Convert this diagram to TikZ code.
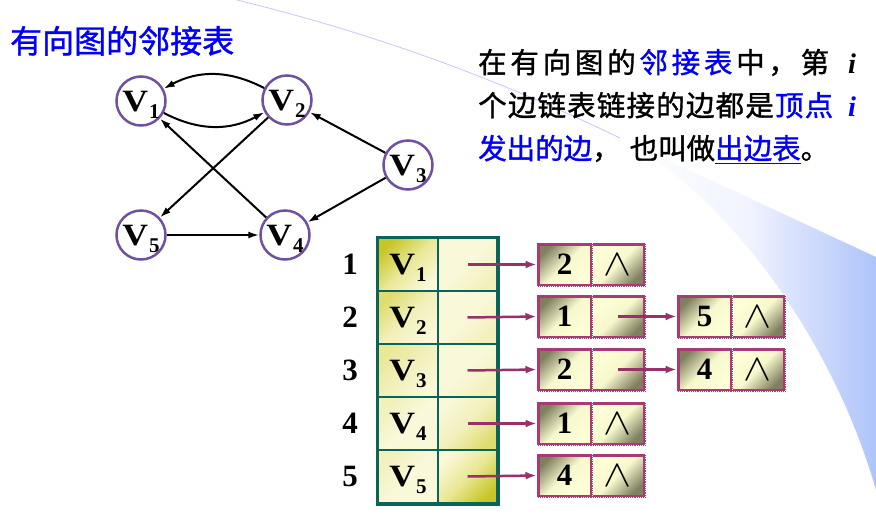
\documentclass[tikz,border=0pt]{standalone}
\usepackage{fontspec}
\usepackage{graphicx}
\setmainfont{Liberation Serif}
\newfontfamily\cjk[FakeBold=1.2]{Noto Sans CJK SC}
\usetikzlibrary{arrows.meta}
\definecolor{tblue}{RGB}{0,0,250}
\definecolor{vpurple}{RGB}{112,80,160}
\definecolor{tteal}{RGB}{10,100,90}
\definecolor{ptrc}{RGB}{150,50,105}
\definecolor{boxc}{RGB}{165,60,115}
\definecolor{yA}{RGB}{200,197,40}
\definecolor{yB}{RGB}{222,220,110}
\definecolor{yC}{RGB}{234,232,150}
\definecolor{yD}{RGB}{242,240,188}
\definecolor{yP}{RGB}{249,248,216}
\definecolor{gD}{RGB}{128,128,96}
\definecolor{gM}{RGB}{248,248,206}
\definecolor{gP}{RGB}{255,255,216}
\definecolor{swA}{RGB}{241,244,255}
\definecolor{swB}{RGB}{214,224,252}
\definecolor{swC}{RGB}{174,196,250}
\definecolor{swL}{RGB}{196,200,250}
\pgfdeclarehorizontalshading{swoosh}{100bp}{color(0bp)=(white); color(25bp)=(white); color(50bp)=(swA); color(60bp)=(swB); color(75bp)=(swC); color(100bp)=(swC)}
\newcommand\vlab[1]{{\fontsize{31}{31}\selectfont\bfseries\scalebox{1.15}[1]{V}}\kern1pt\raisebox{-7pt}{\fontsize{21}{21}\selectfont\bfseries #1}}
\newcommand\nulsym{\scalebox{4.2}[3.8]{$\wedge$}}
\begin{document}
\begin{tikzpicture}[x=1pt,y=1pt,
  vtx/.style={circle, draw=vpurple, line width=2.5pt, minimum size=49pt, inner sep=0pt, text depth=0pt, fill=white},
  gedge/.style={line width=2pt, -{Latex[length=11pt,width=7pt]}},
  lptr/.style={draw=ptrc, line width=2.5pt, -{Latex[length=11pt,width=8pt]}},
  tcell/.style n args={3}{rectangle, draw=tteal, line width=2pt, minimum width=59.5pt, minimum height=53pt, inner sep=0pt, text depth=0pt, top color=#1, bottom color=#3, middle color=#2, shading angle=45},
  datac/.style={rectangle, draw=boxc, line width=3pt, minimum width=53pt, minimum height=41pt, inner sep=0pt, text depth=0pt, font=\fontsize{31}{31}\selectfont\bfseries, top color=gD, bottom color=gP, middle color=gM, shading angle=45},
  linkc/.style={rectangle, draw=boxc, line width=3pt, minimum width=53pt, minimum height=41pt, inner sep=0pt, text depth=0pt, top color=gP, bottom color=gD, middle color=gM, shading angle=45},
  dots/.style={draw=white, line width=0.8pt, dash pattern=on 0.8pt off 1.4pt},
  rownum/.style={inner sep=0pt, text depth=0pt, font=\fontsize{31}{31}\selectfont\bfseries},
  txt/.style={anchor=base west, inner sep=0pt, font=\cjk\fontsize{28.5}{30}\selectfont}
]
\useasboundingbox (0,0) rectangle (876,-520);
\fill[white] (0,0) rectangle (876,-520);
% background swoosh
\shade[shading=swoosh] (620,-138) -- (876,-257) -- (876,-490) .. controls (830,-330) and (720,-190) .. (620,-138) -- cycle;
\draw[swL, line width=0.8pt] (237,0) .. controls (400,-40) and (520,-90) .. (620,-138);
% title
\node[anchor=base west, inner sep=0pt, text=tblue, font=\cjk\fontsize{32}{32}\selectfont] (title) at (10,-53) {有向图的邻接表};
% paragraph
\node[txt] (l1) at (478,-73) {\hbox to 351pt{在\hfil 有\hfil 向\hfil 图\hfil 的\hfil\textcolor{tblue}{邻}\hfil\textcolor{tblue}{接}\hfil\textcolor{tblue}{表}\hfil 中\hfil ，\hfil 第}\hspace{19pt}{\rmfamily\bfseries\itshape i}};
\node[txt] (l2) at (478,-116) {\hbox to 355pt{个\hfil 边\hfil 链\hfil 表\hfil 链\hfil 接\hfil 的\hfil 边\hfil 都\hfil 是\hfil\textcolor{tblue}{顶}\hfil\textcolor{tblue}{点}}\hspace{15pt}\textcolor{tblue}{\rmfamily\bfseries\itshape i}};
\node[txt] (l3) at (478,-159) {\textcolor{tblue}{发出的边}，\hspace{9pt}也叫做\textcolor{tblue}{\underline{出边表}}。};
% graph
\node[vtx] (g1) at (141,-101) {\vlab{1}};
\node[vtx] (g2) at (287,-100) {\vlab{2}};
\node[vtx] (g3) at (408,-165) {\vlab{3}};
\node[vtx] (g4) at (285,-235) {\vlab{4}};
\node[vtx] (g5) at (141,-235) {\vlab{5}};
\draw[gedge] (g2) to[bend right=28] (g1);
\draw[gedge] (g1) to[bend right=28] (g2);
\draw[gedge] (g2) -- (g5);
\draw[gedge] (g4) -- (g1);
\draw[gedge] (g3) -- (g2);
\draw[gedge] (g3) -- (g4);
\draw[gedge] (g5) -- (g4);
% vertex table
\node[tcell={yA}{yC}{yP}] (L1) at (408,-264.5) {\vlab{1}};
\node[tcell={yB}{yD}{yP}] (L2) at (408,-317.5) {\vlab{2}};
\node[tcell={yC}{yD}{yP}] (L3) at (408,-370.5) {\vlab{3}};
\node[tcell={yD}{yP}{yP}] (L4) at (408,-423.5) {\vlab{4}};
\node[tcell={yD}{yP}{yP}] (L5) at (408,-476.5) {\vlab{5}};
\node[tcell={yP}{yP}{yD}] (R1) at (467.5,-264.5) {};
\node[tcell={yP}{yP}{yD}] (R2) at (467.5,-317.5) {};
\node[tcell={yP}{yP}{yD}] (R3) at (467.5,-370.5) {};
\node[tcell={yP}{yD}{yB}] (R4) at (467.5,-423.5) {};
\node[tcell={yP}{yC}{yA}] (R5) at (467.5,-476.5) {};
\draw[tteal, line width=3pt] (L1.north west) rectangle (R5.south east);
% row numbers
\node[rownum] (n1) at (350,-264.5) {1};
\node[rownum] (n2) at (350,-317.5) {2};
\node[rownum] (n3) at (350,-370.5) {3};
\node[rownum] (n4) at (350,-423.5) {4};
\node[rownum] (n5) at (350,-476.5) {5};
% edge list nodes
\node[datac] (d1) at (564.5,-264.5) {2};
\node[linkc] (p1) at (617.5,-264.5) {\nulsym};
\node[datac] (d2) at (564.5,-316.5) {1};
\node[linkc] (p2) at (617.5,-316.5) {};
\node[datac] (d3) at (564.5,-369.5) {2};
\node[linkc] (p3) at (617.5,-369.5) {};
\node[datac] (d4) at (564.5,-423.5) {1};
\node[linkc] (p4) at (617.5,-423.5) {\nulsym};
\node[datac] (d5) at (564.5,-475.5) {4};
\node[linkc] (p5) at (617.5,-475.5) {\nulsym};
\node[datac] (e2) at (704.5,-316.5) {5};
\node[linkc] (q2) at (757.5,-316.5) {\nulsym};
\node[datac] (e3) at (704.5,-369.5) {4};
\node[linkc] (q3) at (757.5,-369.5) {\nulsym};
\foreach \a/\b in {d1/p1,d2/p2,d3/p3,d4/p4,d5/p5,e2/q2,e3/q3}{
  \draw[dots] (\a.north west) rectangle (\b.south east);
  \draw[dots] (\a.north east) -- (\a.south east);
}
% pointers
\draw[lptr] (R1.center) -- (d1.west);
\draw[lptr] (R2.center) -- (d2.west);
\draw[lptr] (R3.center) -- (d3.west);
\draw[lptr] (R4.center) -- (d4.west);
\draw[lptr] (R5.center) -- (d5.west);
\draw[lptr] (p2.center) -- (e2.west);
\draw[lptr] (p3.center) -- (e3.west);
\end{tikzpicture}
\end{document}
